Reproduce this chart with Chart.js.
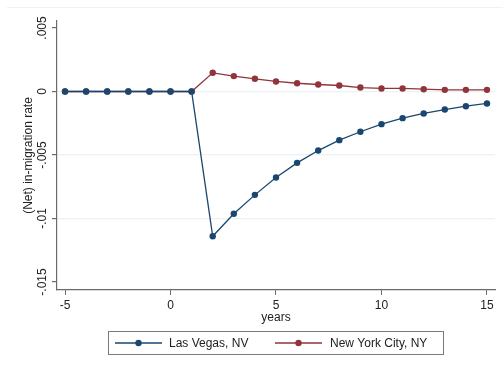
<!DOCTYPE html>
<html>
<head>
<meta charset="utf-8">
<script src="https://cdn.jsdelivr.net/npm/chart.js@4"></script>
<style>
  html, body { margin: 0; padding: 0; background: #fff; }
  #wrap { width: 503px; height: 368px; }
</style>
</head>
<body>
<div id="wrap"><canvas id="chart" width="503" height="368"></canvas></div>
<script>
// years relative to the shock
const years = [-5, -4, -3, -2, -1, 0, 1, 2, 3, 4, 5, 6, 7, 8, 9, 10, 11, 12, 13, 14, 15];
const lasVegas = [0, 0, 0, 0, 0, 0, 0, -0.01140, -0.00963, -0.00814, -0.00677, -0.00562, -0.00465, -0.00383,
                  -0.00317, -0.00257, -0.00210, -0.00173, -0.00142, -0.00116, -0.00094];
const newYork = [0, 0, 0, 0, 0, 0, 0, 0.00147, 0.00121, 0.00100, 0.00079, 0.00065, 0.00055, 0.00047,
                 0.00031, 0.00024, 0.00024, 0.00018, 0.00013, 0.00013, 0.00013];
const xTicks = [-5, 0, 5, 10, 15];
const yTicks = [0.005, 0, -0.005, -0.01, -0.015];
const yTickLabels = ['.005', '0', '-.005', '-.01', '-.015'];
const seriesNames = ['Las Vegas, NV', 'New York City, NY'];

const NAVY = '#1a476f';
const MAROON = '#90353b';
const AXIS = '#6b6b6b';
const GRID = '#eaf2f3';
const FONT = '"Liberation Sans", Arial, sans-serif';

function toPoints(vals) {
    return years.map((yr, i) => ({ x: yr, y: vals[i] }));
}

// rotated y labels, axis title, legend box and the faint outer rule
const extras = {
    id: 'extras',
    afterDraw(chart) {
        const ctx = chart.ctx;
        const y = chart.scales.y;
        const area = chart.chartArea;
        ctx.save();

        ctx.strokeStyle = '#eef2f4';
        ctx.lineWidth = 1;
        ctx.beginPath();
        ctx.moveTo(7, 7.5);
        ctx.lineTo(503, 7.5);
        ctx.stroke();

        ctx.fillStyle = '#222';
        ctx.font = '12px ' + FONT;
        ctx.textAlign = 'center';
        ctx.textBaseline = 'middle';
        yTicks.forEach((v, i) => {
            const py = y.getPixelForValue(v);
            ctx.save();
            ctx.translate(43, py);
            ctx.rotate(-Math.PI / 2);
            ctx.fillText(yTickLabels[i], 0, 0);
            ctx.restore();
        });

        ctx.save();
        ctx.translate(29, (area.top + area.bottom) / 2);
        ctx.rotate(-Math.PI / 2);
        ctx.fillText('(Net) in-migration rate', 0, 0);
        ctx.restore();

        ctx.fillText('years', (area.left + area.right) / 2, 318);

        // legend
        ctx.strokeStyle = '#7a7a7a';
        ctx.lineWidth = 1;
        ctx.strokeRect(108.5, 331.5, 335, 23);
        const items = [
            { x0: 115, x1: 162, tx: 169, color: NAVY, name: seriesNames[0] },
            { x0: 275, x1: 322, tx: 330, color: MAROON, name: seriesNames[1] }
        ];
        const ly = 343;
        items.forEach(it => {
            ctx.strokeStyle = it.color;
            ctx.lineWidth = 1.3;
            ctx.beginPath();
            ctx.moveTo(it.x0, ly);
            ctx.lineTo(it.x1, ly);
            ctx.stroke();
            ctx.fillStyle = it.color;
            ctx.beginPath();
            ctx.arc((it.x0 + it.x1) / 2, ly, 3.2, 0, Math.PI * 2);
            ctx.fill();
            ctx.fillStyle = '#222';
            ctx.textAlign = 'left';
            ctx.fillText(it.name, it.tx, ly + 0.5);
        });
        ctx.restore();
    }
};

const ctx = document.getElementById('chart').getContext('2d');
new Chart(ctx, {
    type: 'line',
    data: {
        datasets: [
            {
                label: seriesNames[0],
                data: toPoints(lasVegas),
                borderColor: NAVY,
                backgroundColor: NAVY,
                borderWidth: 1.3,
                pointRadius: 3.2,
                pointBorderWidth: 0,
                tension: 0
            },
            {
                label: seriesNames[1],
                data: toPoints(newYork),
                borderColor: MAROON,
                backgroundColor: MAROON,
                borderWidth: 1.3,
                pointRadius: 3.2,
                pointBorderWidth: 0,
                tension: 0
            }
        ]
    },
    options: {
        responsive: false,
        animation: false,
        layout: { padding: { left: 0, top: 21, right: 8, bottom: 0 } },
        plugins: { legend: { display: false }, tooltip: { enabled: false } },
        scales: {
            x: {
                type: 'linear',
                min: -5.38,
                max: 15.38,
                afterBuildTicks: s => { s.ticks = xTicks.map(v => ({ value: v })); },
                afterFit: s => { s.height = 78; },
                border: { color: AXIS, width: 1.2 },
                grid: { drawOnChartArea: false, drawTicks: true, tickLength: 5, tickColor: AXIS },
                ticks: {
                    color: '#222',
                    font: { family: FONT, size: 12 },
                    padding: 3,
                    maxRotation: 0,
                    callback: v => String(v)
                }
            },
            y: {
                type: 'linear',
                min: -0.01563,
                max: 0.00555,
                afterBuildTicks: s => { s.ticks = yTicks.map(v => ({ value: v })); },
                afterFit: s => { s.width = 57; },
                border: { color: AXIS, width: 1.2 },
                grid: {
                    drawTicks: true,
                    tickLength: 5,
                    tickColor: AXIS,
                    color: c => (c.tick && c.tick.value < 0.004 && c.tick.value > -0.014) ? GRID : 'rgba(0,0,0,0)',
                    lineWidth: 1.2
                },
                ticks: { display: false }
            }
        }
    },
    plugins: [extras]
});
</script>
</body>
</html>
